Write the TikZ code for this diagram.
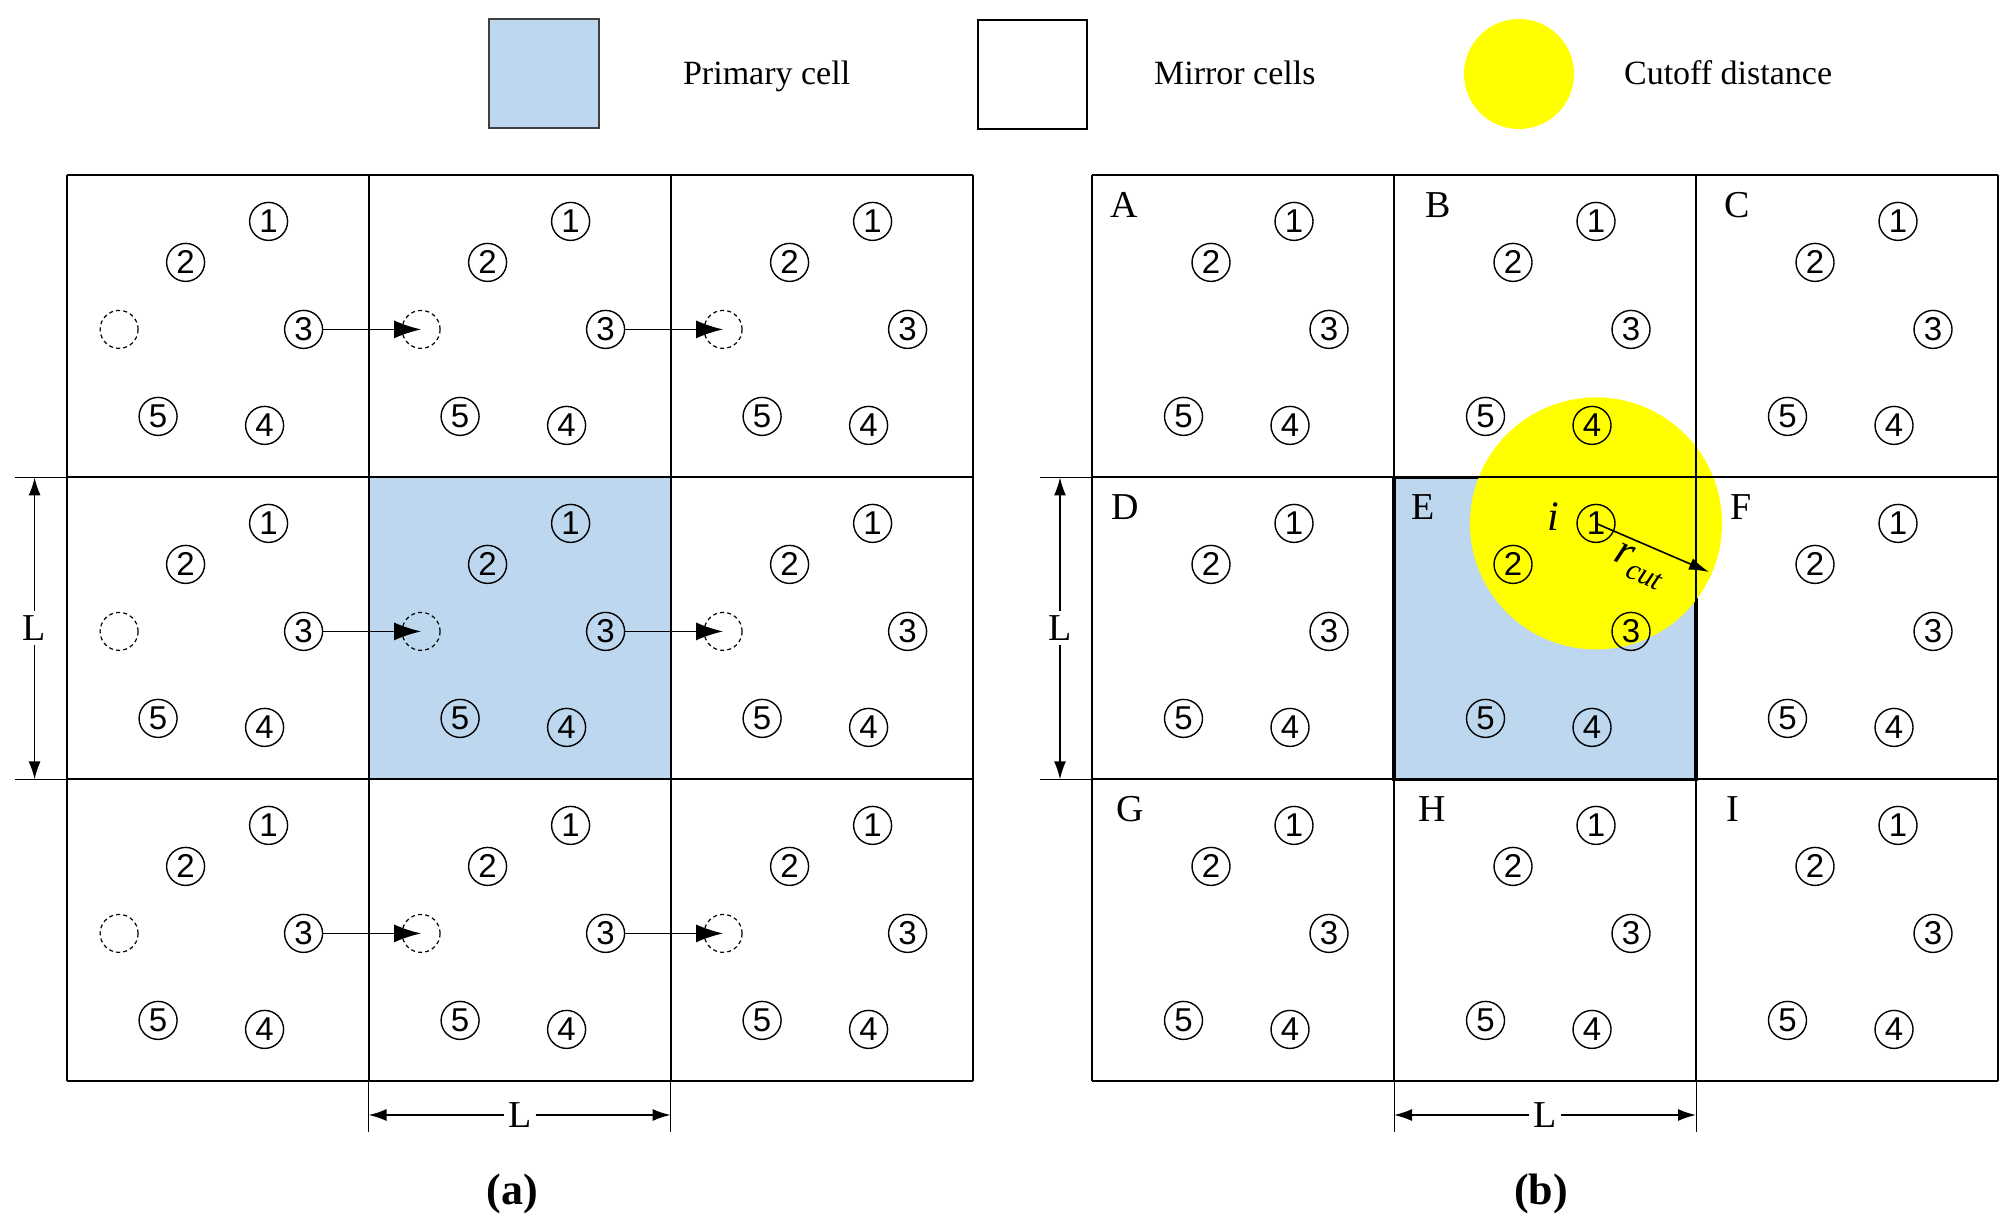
\documentclass[tikz,border=0pt]{standalone}
\usepackage{fontspec}
\setmainfont{Liberation Serif}
\newfontfamily\numfont{Liberation Sans}
\usetikzlibrary{arrows.meta}
\definecolor{cellblue}{HTML}{BDD7EE}
\definecolor{cutyellow}{HTML}{FFFF00}
\begin{document}
\begin{tikzpicture}[x=0.5pt,y=-0.5pt,
  particle/.style={circle,draw,line width=0.7pt,minimum size=19pt,inner sep=0pt,font=\numfont\fontsize{16.5}{16.5}\selectfont},
  ghost/.style={circle,draw,dash pattern=on 2pt off 1.6pt,line width=0.6pt,minimum size=19pt,inner sep=0pt},
  gridline/.style={line width=1pt},
  shiftarrow/.style={line width=0.8pt,-{Latex[length=13.5pt,width=9pt]}},
  dimarrow/.style={line width=0.8pt,-{Latex[length=9pt,width=6pt]}},
  extline/.style={line width=0.5pt},
  lbl/.style={font=\fontsize{19}{19}\selectfont},
  dimlbl/.style={lbl,fill=white,inner sep=2pt},
  legtxt/.style={anchor=base west,font=\fontsize{17}{18}\selectfont},
  captxt/.style={font=\fontsize{22}{22}\selectfont\bfseries},
]
\useasboundingbox (0,0) rectangle (2007,1225);

% ---------- legend ----------
\node[draw=black!75,line width=1pt,fill=cellblue,minimum width=55pt,minimum height=54.5pt,inner sep=0pt] (legP) at (544,73.5) {};
\node[legtxt] (legPt) at (676,85) {Primary cell};
\node[draw,line width=1pt,fill=white,minimum width=54.5pt,minimum height=54.5pt,inner sep=0pt] (legM) at (1032.5,74.5) {};
\node[legtxt] (legMt) at (1147,85) {Mirror cells};
\node[circle,fill=cutyellow,minimum size=55pt,inner sep=0pt] (legC) at (1519,74) {};
\node[legtxt] (legCt) at (1617,85) {Cutoff distance};

% ---------- (a) ----------
\fill[cellblue] (368.6,477.4) rectangle (670.6,779.4);
\foreach \i in {0,1,2,3}{
  \draw[gridline] ({66.6+302*\i},175.4) -- ({66.6+302*\i},1081.4);
  \draw[gridline] (66.6,{175.4+302*\i}) -- (972.6,{175.4+302*\i});
}
\foreach \r in {0,1,2}{\foreach \c in {0,1,2}{
  \begin{scope}[shift={({66.6+302*\c},{175.4+302*\r})}]
    \node[particle] (a\r\c-1) at (202,46) {1};
    \node[particle] (a\r\c-2) at (119,87) {2};
    \node[particle] (a\r\c-3) at (237,154) {3};
    \node[particle] (a\r\c-4) at (198,250) {4};
    \node[particle] (a\r\c-5) at (91.5,241) {5};
    \node[ghost] (a\r\c-g) at (52.5,154) {};
  \end{scope}
}}
\foreach \r in {0,1,2}{
  \draw[shiftarrow] (a\r0-3) -- (a\r1-g.center);
  \draw[shiftarrow] (a\r1-3) -- (a\r2-g.center);
}
% dimensions (a)
\draw[extline] (368.6,1081.4) -- (368.6,1132);
\draw[extline] (670.6,1081.4) -- (670.6,1132);
\coordinate (aH1) at (368.6,1115);
\coordinate (aH2) at (670.6,1115);
\node[dimlbl] (aHL) at (519.6,1115) {L};
\draw[dimarrow] (aHL) -- (aH1);
\draw[dimarrow] (aHL) -- (aH2);
\draw[extline] (15,477.4) -- (66.6,477.4);
\draw[extline] (15,779.4) -- (66.6,779.4);
\coordinate (aV1) at (34.6,477.4);
\coordinate (aV2) at (34.6,779.4);
\node[dimlbl] (aVL) at (34.6,628) {L};
\draw[dimarrow] (aVL) -- (aV1);
\draw[dimarrow] (aVL) -- (aV2);
\node[captxt] (capA) at (512,1194) {(a)};

% ---------- (b) ----------
\fill[cellblue] (1394,477.4) rectangle (1696,779.4);
\draw[line width=1.6pt] (1394,477.4) rectangle (1696,779.4);
\coordinate (cutc) at (1596,523.4);
\fill[cutyellow] (cutc) circle[radius=126];
\foreach \i in {0,1,2,3}{
  \draw[gridline] ({1092+302*\i},175.4) -- ({1092+302*\i},1081.4);
  \draw[gridline] (1092,{175.4+302*\i}) -- (1998,{175.4+302*\i});
}
\foreach \r/\c/\L/\lx in {0/0/A/32,0/1/B/44,0/2/C/41,1/0/D/33,1/1/E/29,1/2/F/45,2/0/G/38,2/1/H/38,2/2/I/37}{
  \begin{scope}[shift={({1092+302*\c},{175.4+302*\r})}]
    \node[lbl] (b\r\c-L) at (\lx,30) {\L};
    \node[particle] (b\r\c-1) at (202,46) {1};
    \node[particle] (b\r\c-2) at (119,87) {2};
    \node[particle] (b\r\c-3) at (237,154) {3};
    \node[particle] (b\r\c-4) at (198,250) {4};
    \node[particle] (b\r\c-5) at (91.5,241) {5};
  \end{scope}
}
\coordinate (rc) at (1709,572);
\draw[line width=0.8pt,-{Latex[length=10pt,width=6pt]}] (b11-1.center) -- (rc);
\node[font=\fontsize{21}{21}\selectfont\itshape] (ilbl) at (1553,517) {i};
\node[rotate=-23.5,inner sep=0pt] (rlbl) at (1639,566)
  {\fontsize{22}{22}\selectfont\itshape r\raisebox{-5pt}{\fontsize{15}{15}\selectfont cut}};
% dimensions (b)
\draw[extline] (1394,1081.4) -- (1394,1132);
\draw[extline] (1696,1081.4) -- (1696,1132);
\coordinate (bH1) at (1394,1115);
\coordinate (bH2) at (1696,1115);
\node[dimlbl] (bHL) at (1545,1115) {L};
\draw[dimarrow] (bHL) -- (bH1);
\draw[dimarrow] (bHL) -- (bH2);
\draw[extline] (1040,477.4) -- (1092,477.4);
\draw[extline] (1040,779.4) -- (1092,779.4);
\coordinate (bV1) at (1060,477.4);
\coordinate (bV2) at (1060,779.4);
\node[dimlbl] (bVL) at (1060,628) {L};
\draw[dimarrow] (bVL) -- (bV1);
\draw[dimarrow] (bVL) -- (bV2);
\node[captxt] (capB) at (1541,1194) {(b)};
\end{tikzpicture}
\end{document}
